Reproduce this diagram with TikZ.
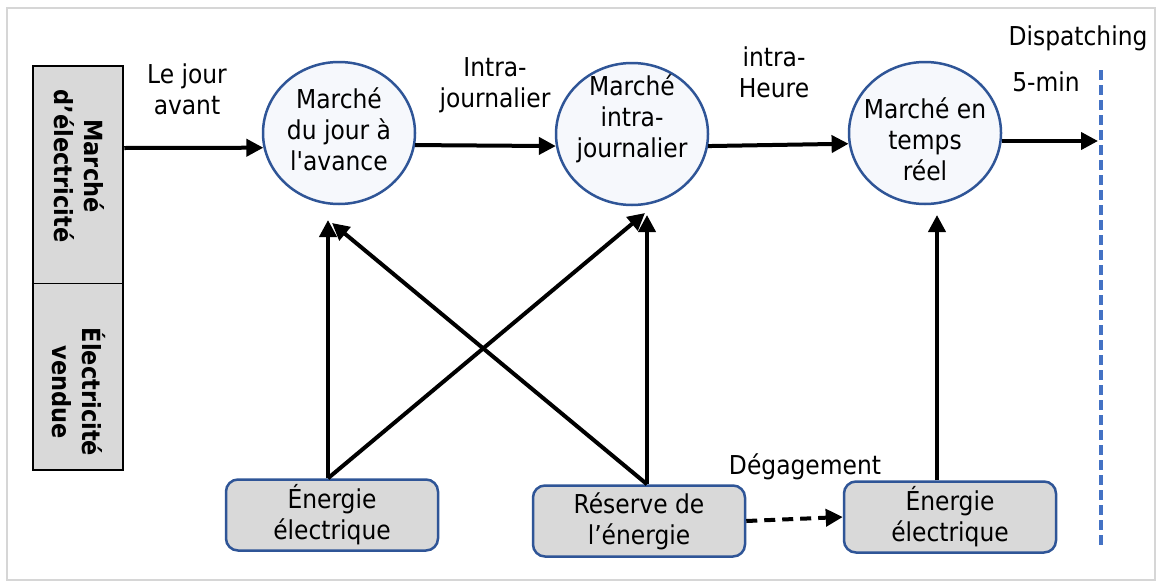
\documentclass[tikz,border=0pt]{standalone}
\usepackage{fontspec}
\setmainfont{DejaVu Sans Condensed}
\usetikzlibrary{arrows.meta,shapes.geometric}
\definecolor{frame}{HTML}{D6D6D6}
\definecolor{boxfill}{HTML}{D9D9D9}
\definecolor{edge}{HTML}{2F5597}
\definecolor{bubfill}{HTML}{F6F8FC}
\definecolor{dispatch}{HTML}{4472C4}
\begin{document}
\begin{tikzpicture}[x=1pt,y=-1pt,
  txt/.style={font=\fontsize{26}{31}\selectfont, align=center, inner sep=0pt},
  bub/.style={ellipse, draw=edge, line width=2.5pt, fill=bubfill, minimum width=152pt, minimum height=142pt, inner sep=0pt},
  srcbox/.style={draw=edge, line width=2.5pt, fill=boxfill, rounded corners=12pt, minimum width=212pt, minimum height=71pt, inner sep=0pt, font=\fontsize{26}{31}\selectfont, align=center},
  arr/.style={line width=4pt, -{Triangle[length=17pt,width=17pt]}},
  bartxt/.style={font=\bfseries\fontsize{25}{30}\selectfont, align=center, rotate=-90, inner sep=0pt}
]
\useasboundingbox (0,0) rectangle (1158,581);
\fill[white] (0,0) rectangle (1158,581);
\draw[frame, line width=2pt] (7,8) rectangle (1155,580);

% side bar with its two labels
\node[draw, line width=2.5pt, fill=boxfill, minimum width=90pt, minimum height=404pt, inner sep=0pt] (bar) at (78,268) {};
\draw[line width=1pt] (bar.west |- 0,283) -- (bar.east |- 0,283);
\node[bartxt] (bartop) at (79,166) {Marché\\d’électricité};
\node[bartxt] (barbot) at (79,392) {Électricité\\vendue};

% markets
\node[bub] (c1) at (339,133) {};
\node[txt] (c1t) at (339,129) {Marché\\du jour à\\l\textquotesingle avance};
\node[bub] (c2) at (632,134) {};
\node[txt] (c2t) at (632,119) {Marché\\intra-\\journalier};
\node[bub] (c3) at (925,133) {};
\node[txt] (c3t) at (925,139) {Marché en\\temps\\réel};

% dispatching boundary
\coordinate (dtop) at (1101,70);
\coordinate (dbot) at (1101,546);
\draw[dispatch, line width=4pt, dash pattern=on 10pt off 5pt] (dtop) -- (dbot);

% energy sources
\node[srcbox] (b1) at (332,515) {Énergie\\électrique};
\node[srcbox] (b2) at (639,521) {Réserve de\\l’énergie};
\node[srcbox] (b3) at (950,517) {Énergie\\électrique};

% labels on the timeline
\node[txt] (l1) at (187,89) {Le jour\\avant};
\node[txt] (l2) at (495,85) {Intra-\\journalier};
\node[txt] (l3) at (774,72) {intra-\\Heure};
\node[txt] (l4) at (1078,38) {Dispatching};
\node[txt] (l5) at (1046,82) {5-min};
\node[txt] (l6) at (805,467) {Dégagement};

% timeline arrows
\coordinate (dend) at (1098,141);
\draw[arr] (bar.east |- 0,148) -- (c1.191);
\draw[arr] (c1.-9) -- (c2.189);
\draw[arr] (c2.-9) -- (c3.188);
\draw[arr] (c3.-6 |- dend) -- (dend);

% arrow tips below the markets
\coordinate (t1a) at (328,220);
\coordinate (t1b) at (332,223);
\coordinate (t2a) at (645,213);
\coordinate (t2b) at (647,215);
\coordinate (t3) at (937,215);

\draw[arr] (b1.north -| t1a) -- (t1a);
\draw[arr] (b1.north -| t1a) -- (t2a);
\draw[arr] (b2.north -| t2b) -- (t2b);
\draw[arr] (b2.north -| t2b) -- (t1b);
\draw[arr] (b3.north -| t3) -- (t3);
\draw[line width=4pt, dash pattern=on 11pt off 7pt, -{Triangle[length=17pt,width=17pt]}] (b2.east) -- (b3.west);
\end{tikzpicture}
\end{document}
